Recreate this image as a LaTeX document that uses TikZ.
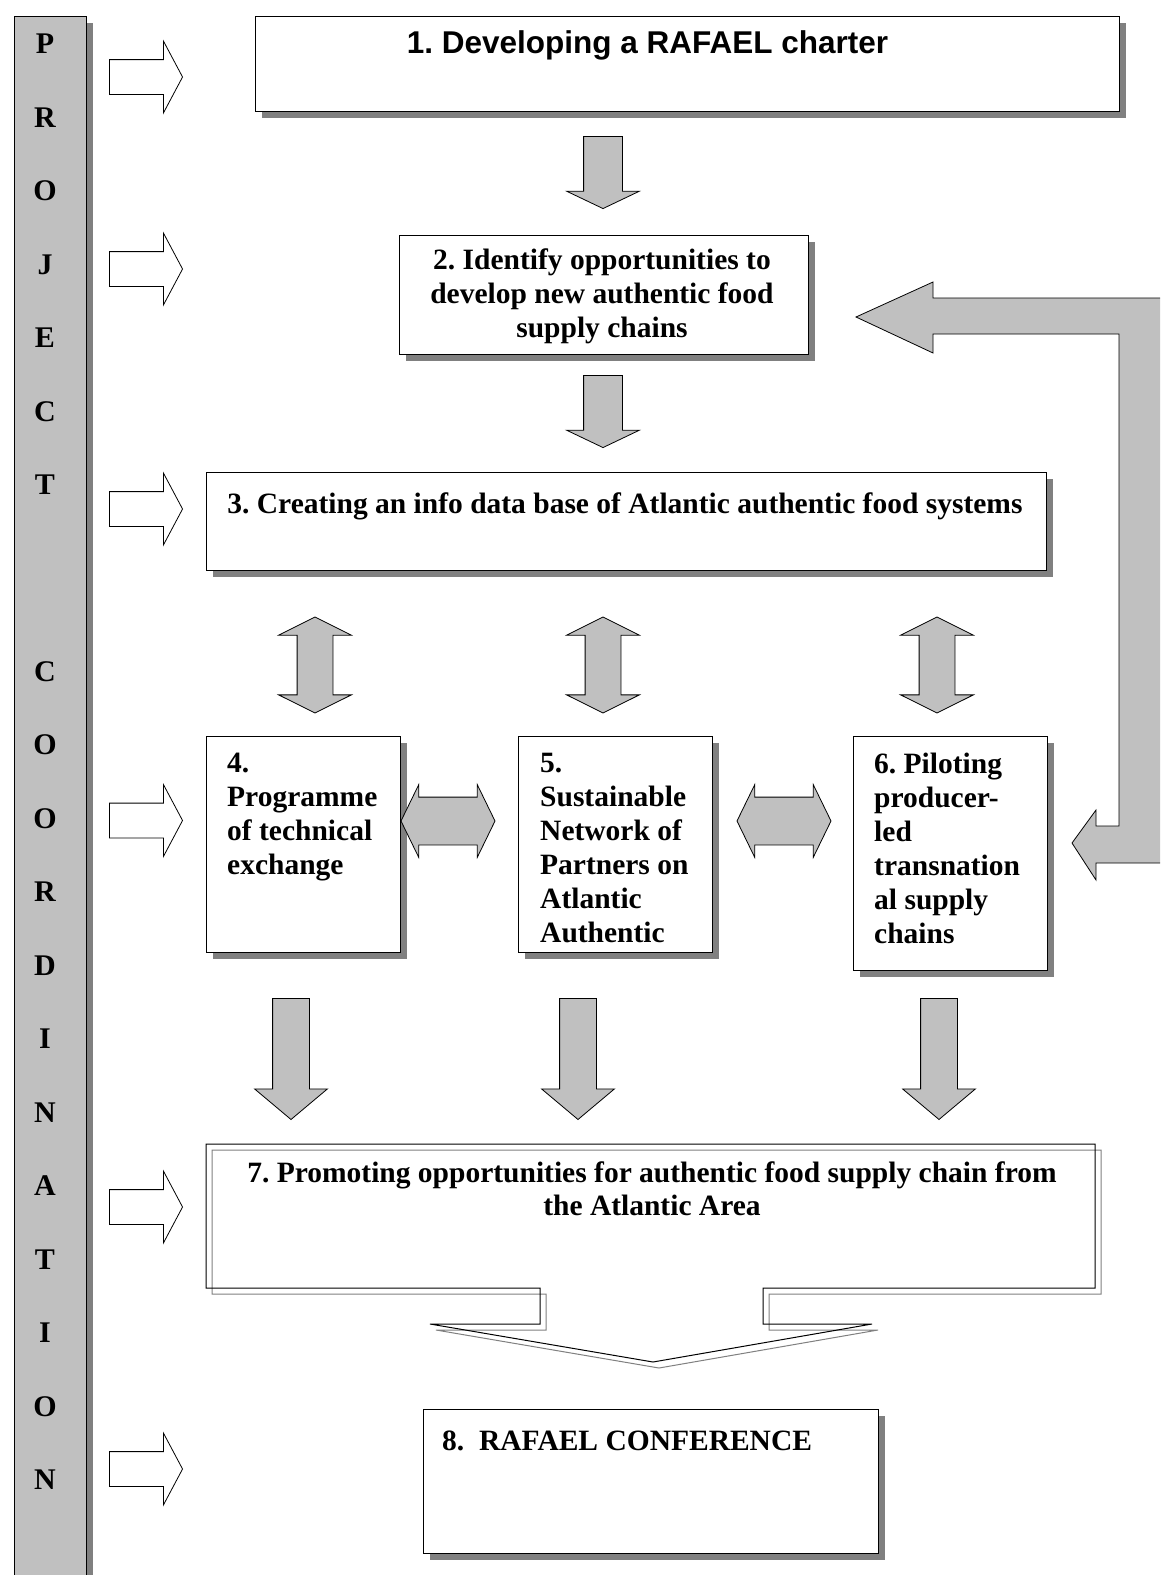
\documentclass[tikz,border=0pt]{standalone}
\usepackage{fontspec}
\setmainfont{Liberation Serif}
\newfontfamily\arialfont{Liberation Sans}
\usetikzlibrary{shapes.arrows,shadows}

\definecolor{silver}{HTML}{C0C0C0}
\definecolor{shadowgray}{HTML}{808080}

\begin{document}
\frenchspacing
\begin{tikzpicture}[x=1pt,y=-1pt,
  box/.style={draw,fill=white,line width=1pt,inner sep=0pt,anchor=north west,
    general shadow={fill=shadowgray,shadow xshift=6pt,shadow yshift=-6pt}},
  txt/.style={font=\bfseries\fontsize{29.5}{34}\selectfont,inner sep=0pt},
  letter/.style={font=\bfseries\fontsize{30}{36}\selectfont,inner sep=0pt,anchor=base},
  hollow/.style={single arrow,draw,fill=white,line width=0.8pt,inner sep=0pt,inner ysep=17pt,
    minimum height=73pt,single arrow head extend=18.5pt,single arrow tip angle=124,anchor=tip},
  downarrow/.style={single arrow,draw,fill=silver,line width=0.8pt,inner sep=0pt,rotate=-90,anchor=tip},
  bothways/.style={double arrow,draw,fill=silver,line width=0.8pt,inner sep=0pt}]

\useasboundingbox (0,0) rectangle (1160,1575);
\clip (0,0) rectangle (1160,1575);
\fill[white] (0,0) rectangle (1160,1575);

% side bar
\node[box,fill=silver,minimum width=72pt,minimum height=1600pt] (side) at (14,16) {};
\foreach \l [count=\i from 0] in {P,R,O,J,E,C,T}
  \node[letter] (proj\i) at (45,53.5+73.5*\i) {\l};
\foreach \l [count=\i from 0] in {C,O,O,R,D,I,N,A,T,I,O,N}
  \node[letter] (coord\i) at (45,681+73.5*\i) {\l};
\foreach \y [count=\i] in {77,269,509,820.5,1207,1469}
  \node[hollow] (in\i) at (183,\y) {};

% boxes
\node[box,minimum width=864pt,minimum height=95pt] (box1) at (255,16) {};
\node[box,minimum width=409pt,minimum height=119pt] (box2) at (399,235) {};
\node[box,minimum width=840pt,minimum height=98pt] (box3) at (206,472) {};
\node[box,minimum width=194pt,minimum height=216pt] (box4) at (206,736) {};
\node[box,minimum width=194pt,minimum height=216pt] (box5) at (518,736) {};
\node[box,minimum width=194pt,minimum height=234pt] (box6) at (853,736) {};
\node[box,minimum width=455pt,minimum height=144pt] (box8) at (423,1409) {};

% box 7 (callout)
\draw[shadowgray,line width=1pt,shift={(6,6)}] (206,1144) -| (1095,1288) -| (763,1324)
  -- (872,1324) -- (653,1362) -- (430,1324) -- (540,1324) |- (206,1288) -- cycle;
\draw[line width=1pt] (206,1144) -| (1095,1288) -| (763,1324)
  -- (872,1324) -- (653,1362) -- (430,1324) -- (540,1324) |- (206,1288) -- cycle;

% texts
\node[txt,anchor=base,font=\arialfont\bfseries\fontsize{31.5}{36}\selectfont] (t1) at (647.5,53) {1. Developing a RAFAEL charter};
\node[txt,anchor=north,align=center] (t2) at (602,249) {2. Identify opportunities to\\develop new authentic food\\supply chains};
\node[txt,anchor=base] (t3) at (625,513) {3. Creating an info data base of Atlantic authentic food systems};
\node[txt,anchor=north west,align=left] (t4) at (227,753) {4.\\Programme\\of technical\\exchange};
\node[txt,anchor=north west,align=left] (t5) at (540,753) {5.\\Sustainable\\Network of\\Partners on\\Atlantic\\Authentic};
\node[txt,anchor=north west,align=left] (t6) at (874,753) {6. Piloting\\producer-\\led\\transnation\\al supply\\chains};
\node[txt,anchor=north,align=center,font=\bfseries\fontsize{29.5}{33}\selectfont] (t7) at (652,1162) {7. Promoting opportunities for authentic food supply chain from\\the Atlantic Area};
\node[txt,anchor=base west] (t8) at (442,1450) {8.\ \ RAFAEL CONFERENCE};

% arrows
\node[downarrow,inner ysep=19pt,minimum height=72pt,single arrow head extend=17pt,single arrow tip angle=129] (d12) at (603,209) {};
\node[downarrow,inner ysep=19pt,minimum height=72pt,single arrow head extend=17pt,single arrow tip angle=129] (d23) at (603,448) {};
\foreach \x [count=\i from 4] in {315,603,937}
  \node[bothways,rotate=90,inner ysep=17.5pt,minimum height=96pt,double arrow head extend=18.5pt,double arrow tip angle=127] (ud\i) at (\x,665) {};
\foreach \x [count=\i] in {448,784}
  \node[bothways,inner ysep=23.5pt,minimum height=94pt,double arrow head extend=12.5pt,double arrow tip angle=128] (lr\i) at (\x,821) {};
\foreach \x [count=\i from 4] in {291,578,939}
  \node[downarrow,inner ysep=18pt,minimum height=121pt,single arrow head extend=18pt,single arrow tip angle=100] (d\i7) at (\x,1120) {};

% feedback arrow
\draw[fill=silver,line width=0.8pt] (856,317) -- (933,282) -- (933,298) -- (1180,298) -- (1180,863)
  -- (1096,863) -- (1096,880) -- (1072,843) -- (1096,810) -- (1096,826) -- (1119,826)
  -- (1119,334) -- (933,334) -- (933,353) -- cycle;
\end{tikzpicture}
\end{document}
